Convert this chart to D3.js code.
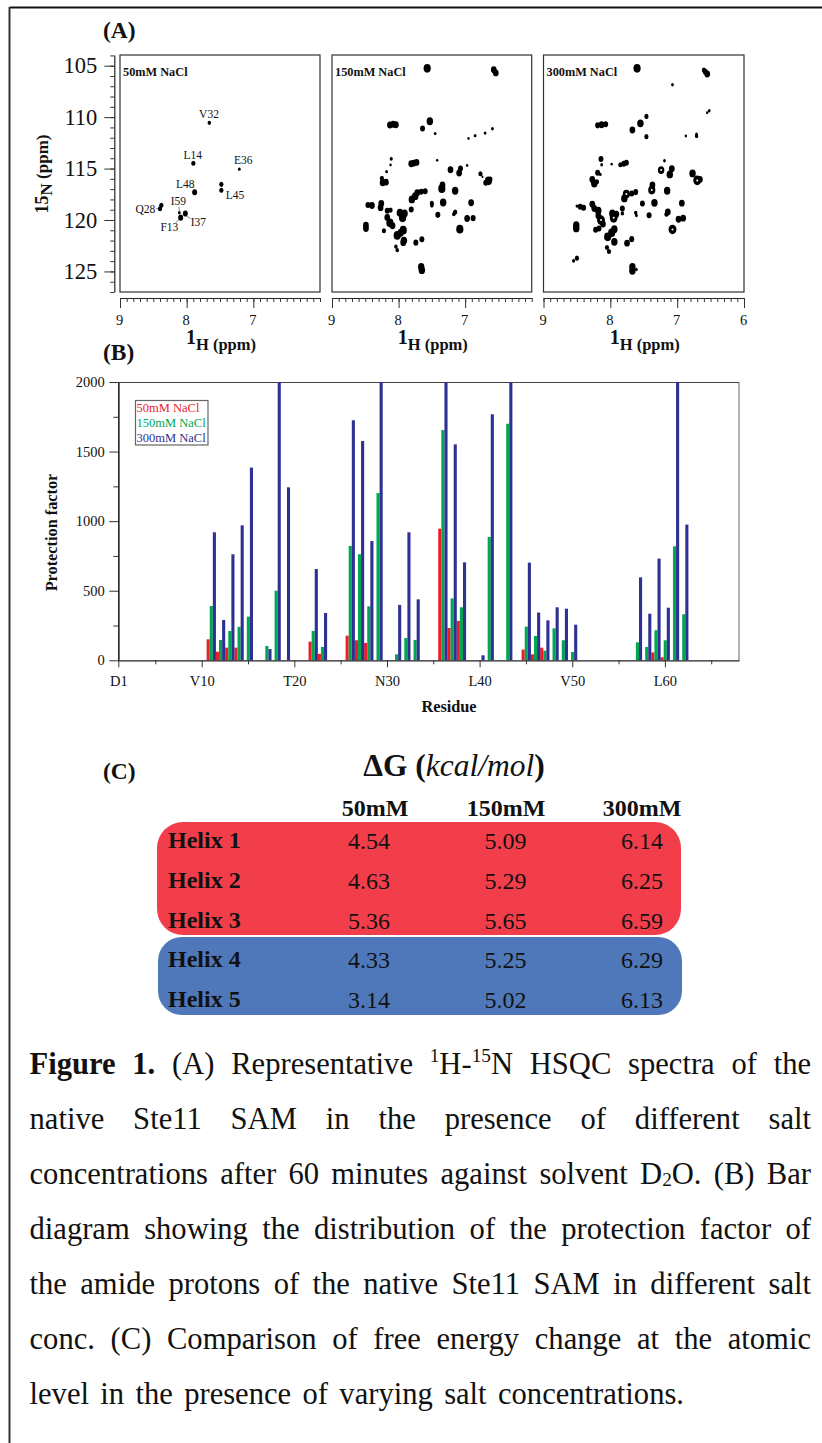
<!DOCTYPE html>
<html>
<head>
<meta charset="utf-8">
<script src="https://cdn.jsdelivr.net/npm/d3@7"></script>
<style>
  html, body { margin: 0; padding: 0; background: #fff; }
  svg { display: block; }
  text { font-family: "Liberation Serif", serif; fill: #111; }
  .domain { stroke: #222; }
</style>
</head>
<body>
<div id="fig"></div>
<script>
// (A) HSQC peaks: [1H ppm, 15N ppm, intensity]
const peaks50 = [
  [7.66,110.55,4],[7.90,114.48,5],[7.21,115.06,3],[7.88,117.30,6],[7.48,116.53,5],[7.48,117.11,5],
  [8.38,118.57,5],[8.40,118.90,5],[8.11,119.29,3],[8.09,119.77,6],[8.02,119.38,6]
];
const peaks150 = [
  [7.57,105.26,9],[6.57,105.40,7],[6.54,105.70,7],[8.13,110.77,7],[8.08,110.70,7],[8.04,110.74,7],
  [7.53,110.40,8],[7.64,111.10,6],[7.45,111.60,3],[6.95,112.07,2.5],[6.85,111.80,3],[6.70,111.55,3],
  [6.59,111.13,3],[8.11,114.05,3.5],[8.12,114.66,2.5],[8.18,115.30,3],[7.42,114.20,2.5],[6.97,114.70,2.5],
  [7.81,114.53,7],[7.77,114.47,7],[7.73,114.40,7],[7.22,115.12,7],[7.07,115.00,6],[7.09,115.44,7],
  [6.77,115.50,5],[6.74,115.80,2],[6.65,116.19,9],[6.69,116.38,6],[6.62,116.02,5],[8.25,115.96,5],
  [8.24,116.38,7],[8.19,116.32,7],[7.34,116.60,7],[7.35,116.96,9],[7.15,117.16,8],[7.60,117.20,6],
  [7.66,117.26,6],[7.72,117.35,7],[7.75,117.68,8],[7.80,118.00,8],[7.33,118.30,8],[7.50,118.39,5],
  [7.50,118.60,4],[6.91,118.33,7],[8.46,118.55,6],[8.40,118.60,7],[8.26,118.39,7],[8.27,118.80,7],
  [8.17,119.10,6],[8.12,119.04,5],[7.81,118.98,6],[7.41,119.50,6],[7.15,119.23,5],[7.17,119.43,4],
  [7.98,119.30,8],[7.91,119.36,8],[7.94,119.79,9],[6.97,119.85,7],[6.88,119.82,6],[8.17,119.75,7],
  [8.13,120.27,9],[8.09,120.56,7],[8.49,120.50,7],[8.49,120.82,7],[8.22,121.05,5],[7.08,120.89,9],
  [7.93,120.99,9],[7.97,121.25,8],[8.02,121.50,9],[7.92,122.00,8],[7.93,122.20,7],[7.74,122.20,6],
  [7.65,121.87,6],[8.04,122.60,4],[8.02,122.93,4],[7.66,124.55,8],[7.65,124.88,8]
];
const peaks300 = [
  [7.60,105.26,9],[6.60,105.42,5],[6.58,105.58,6],[6.55,105.81,7],[7.07,106.85,3],[6.52,109.38,3],
  [6.55,109.57,2.5],[7.46,109.93,5],[7.55,110.60,8],[7.67,111.26,7],[8.19,110.80,6],[8.13,110.74,7],
  [8.07,110.70,6],[7.46,111.90,5],[6.87,111.84,2.5],[6.71,111.84,4],[6.71,111.65,3],[8.14,114.08,6],
  [8.13,114.63,3],[7.98,114.57,2.5],[7.85,114.63,5],[7.80,114.53,6],[7.76,114.44,6],[7.19,114.24,3],
  [7.24,115.15,8],[7.08,115.02,7],[7.11,115.57,8],[6.77,115.47,8],[6.70,116.15,10],[6.66,116.06,7],
  [8.19,115.41,6],[8.15,115.57,3],[8.27,116.06,7],[8.24,116.45,8],[8.20,116.28,5],[7.37,116.60,7],
  [7.38,117.09,9],[7.15,117.16,8],[7.62,117.29,6],[7.68,117.42,6],[7.76,117.48,9],[7.79,117.90,8],
  [7.34,118.33,8],[7.52,118.39,6],[6.93,118.36,7],[8.50,118.65,3],[8.45,118.72,6],[8.40,118.81,6],
  [8.27,118.46,7],[8.24,118.88,7],[7.82,118.88,6],[7.82,119.36,4],[8.18,119.10,8],[8.18,119.59,7],
  [7.62,119.30,4],[7.61,119.56,3],[7.42,119.53,6],[7.14,119.23,7],[7.16,119.43,5],[7.97,119.36,8],
  [7.91,119.43,7],[7.95,119.79,10],[6.98,119.92,7],[6.91,119.82,7],[8.14,120.01,10],[8.11,120.40,7],
  [8.51,120.50,8],[8.51,120.82,8],[8.22,120.95,6],[8.17,120.82,6],[7.07,120.92,10],[7.94,120.89,8],
  [7.98,121.25,9],[8.04,121.63,9],[7.94,122.12,8],[7.75,122.25,7],[7.68,121.86,6],[8.05,122.67,5],
  [8.02,123.06,5],[8.50,123.71,5],[8.55,123.97,3.5],[7.67,124.55,8],[7.67,124.94,8],[7.61,124.81,3]
];
const holes300 = [[7.07,120.92],[7.95,119.79],[6.70,116.15],[7.76,117.48],[7.38,117.09],[8.14,120.01],[7.24,115.15]];

// peak assignments in the 50mM panel: [name, 1H of text, 15N of text]
const peakLabels = [
  ["V32",7.665,109.65],["L14",7.91,113.68],["E36",7.15,114.2],["L48",8.02,116.5],["L45",7.275,117.55],
  ["Q28",8.62,118.9],["I59",8.125,118.2],["F13",8.26,120.65],["I37",7.825,120.2]
];

const panelTitles = ["50mM NaCl", "150mM NaCl", "300mM NaCl"];

// (B) protection factor per residue, 2000 is where the plot cuts off
const residues = [11,12,13,14,15,17,18,19,22,23,26,27,28,29,31,32,33,36,37,38,40,41,43,45,46,47,48,49,50,57,58,59,60,61,62];
const pf50  = [151,62,91,91,0,0,0,0,134,46,177,144,125,0,0,0,0,946,232,283,0,0,0,77,43,91,0,0,0,0,0,57,22,0,0];
const pf150 = [390,146,211,240,314,103,500,0,211,96,822,762,388,1202,43,160,146,1655,445,381,0,886,1700,242,175,69,230,144,60,129,96,216,144,819,331];
const pf300 = [920,290,762,970,1385,81,2000,1243,656,340,1725,1576,857,2000,398,920,438,2000,1552,704,36,1768,2000,702,343,287,381,371,256,596,335,731,378,2000,975];
const seriesNames = ["50mM NaCl", "150mM NaCl", "300mM NaCl"];
const residueTicks = [1,10,20,30,40,50,60];
const residueTickLabels = ["D1","V10","T20","N30","L40","V50","L60"];

// (C) free energy table
const helixNames = ["Helix 1","Helix 2","Helix 3","Helix 4","Helix 5"];
const saltColumns = ["50mM","150mM","300mM"];
const dG50  = ["4.54","4.63","5.36","4.33","3.14"];
const dG150 = ["5.09","5.29","5.65","5.25","5.02"];
const dG300 = ["6.14","6.25","6.59","6.29","6.13"];

const barColors = ["#ee1c25", "#00a651", "#2e3192"];

const svg = d3.select("#fig").append("svg").attr("width", 822).attr("height", 1443);

// page frame
svg.append("line").attr("x1", 9.5).attr("x2", 822).attr("y1", 7.5).attr("y2", 7.5).attr("stroke", "#111").attr("stroke-width", 2);
svg.append("line").attr("x1", 9.5).attr("x2", 9.5).attr("y1", 7).attr("y2", 1443).attr("stroke", "#333").attr("stroke-width", 2);

function label(x, y, str, size, bold) {
  return svg.append("text").attr("x", x).attr("y", y).attr("font-size", size)
    .attr("font-weight", bold ? "bold" : "normal").text(str);
}

function styleAxis(g, labelSize) {
  g.selectAll("path.domain").attr("stroke", "#333").attr("stroke-width", 1.2);
  g.selectAll(".tick line").attr("stroke", "#333").attr("stroke-width", 1);
  g.selectAll(".tick text").attr("font-size", labelSize).attr("font-family", "Liberation Serif").attr("fill", "#111");
}

label(103, 38, "(A)", 23.5, true);
label(103, 360, "(B)", 23.5, true);
label(103, 779, "(C)", 23.5, true);

// ---- panel A ----
const panelTop = 55, panelBottom = 292;
const yN = d3.scaleLinear().domain([103.96, 127]).range([panelTop, panelBottom]);
const rPeak = d3.scaleLinear().domain([0, 10]).range([0.3, 4.3]);

const panels = [
  {left: 120, right: 320, peaks: peaks50, title: panelTitles[0], ticks: [9,8,7]},
  {left: 332, right: 531.7, peaks: peaks150, title: panelTitles[1], ticks: [9,8,7]},
  {left: 543.5, right: 744, peaks: peaks300, title: panelTitles[2], ticks: [9,8,7,6]}
];

panels.forEach(function(p, i) {
  let xH = d3.scaleLinear().domain([9, 6]).range([p.left, p.right]);

  svg.append("rect").attr("x", p.left).attr("y", panelTop)
    .attr("width", p.right - p.left).attr("height", panelBottom - panelTop)
    .attr("fill", "none").attr("stroke", "#333").attr("stroke-width", 1.2);

  svg.append("g").selectAll("ellipse").data(p.peaks).enter().append("ellipse")
    .attr("cx", function(d) { return xH(d[0]); })
    .attr("cy", function(d) { return yN(d[1]); })
    .attr("rx", function(d) { return rPeak(d[2]) * 0.92; })
    .attr("ry", function(d) { return rPeak(d[2]) * 1.12; })
    .attr("fill", "#000");

  if (i == 2) {
    svg.append("g").selectAll("circle").data(holes300).enter().append("circle")
      .attr("cx", function(d) { return xH(d[0]); })
      .attr("cy", function(d) { return yN(d[1]); })
      .attr("r", 1).attr("fill", "#fff");
  }

  label(p.left + 3, 75.5, p.title, 12.3, true);

  // minor then major ticks
  let minor = svg.append("g").attr("transform", "translate(0,298)")
    .call(d3.axisBottom(xH).tickValues(d3.range(60, 91).map(function(v) { return v / 10; })).tickSize(4).tickSizeOuter(0).tickFormat(""));
  styleAxis(minor, 14);
  let major = svg.append("g").attr("transform", "translate(0,298)")
    .call(d3.axisBottom(xH).tickValues(p.ticks).tickSize(10).tickSizeOuter(0).tickFormat(d3.format("d")));
  major.select("path.domain").remove();
  styleAxis(major, 14.5);
  major.selectAll(".tick text").attr("dy", "0.95em").attr("dx", -1);

  // 1H (ppm)
  let xt = label((p.left + p.right) / 2 + 1 , 350, "", 16.5, true).attr("text-anchor", "middle");
  xt.append("tspan").attr("font-size", 20).attr("dy", -6).text("1");
  xt.append("tspan").attr("dy", 6).text("H (ppm)");
});

// peak names and leader lines, 50mM panel only
const xH50 = d3.scaleLinear().domain([9, 6]).range([120, 320]);
svg.append("g").selectAll("text").data(peakLabels).enter().append("text")
  .attr("x", function(d) { return xH50(d[1]); })
  .attr("y", function(d) { return yN(d[2]); })
  .attr("text-anchor", "middle").attr("dominant-baseline", "central")
  .attr("font-size", 11.5).text(function(d) { return d[0]; });

const leaders = [
  [[8.115,118.7],[8.11,119.2]],[[8.17,120.3],[8.1,119.85]],[[7.94,119.9],[8.01,119.55]],[[8.46,118.9],[8.42,118.9]]
];
svg.append("g").selectAll("line").data(leaders).enter().append("line")
  .attr("x1", function(d) { return xH50(d[0][0]); }).attr("y1", function(d) { return yN(d[0][1]); })
  .attr("x2", function(d) { return xH50(d[1][0]); }).attr("y2", function(d) { return yN(d[1][1]); })
  .attr("stroke", "#333").attr("stroke-width", 0.6);

// y axis shared by the spectra
let yMinor = svg.append("g").attr("transform", "translate(114.3,0)")
  .call(d3.axisLeft(yN).tickValues(d3.range(104, 128)).tickSize(4).tickSizeOuter(0).tickFormat(""));
styleAxis(yMinor, 21);
let yMajor = svg.append("g").attr("transform", "translate(114.3,0)")
  .call(d3.axisLeft(yN).tickValues([105,110,115,120,125]).tickSize(10).tickSizeOuter(0).tickFormat(d3.format("d")));
yMajor.select("path.domain").remove();
styleAxis(yMajor, 22.5);
yMajor.selectAll(".tick text").attr("dx", -4);

let yt = svg.append("text").attr("transform", "translate(48,174) rotate(-90)")
  .attr("text-anchor", "middle").attr("font-weight", "bold").attr("font-size", 17);
yt.append("tspan").attr("font-size", 18).text("15");
yt.append("tspan").attr("dy", 4).text("N");
yt.append("tspan").attr("dy", -4).text(" (ppm)");

// ---- panel B ----
const barLeft = 118.3, barRight = 739, barTop = 382, barBottom = 660.3;
const x = d3.scaleLinear().domain([1, 68]).range([barLeft, barRight]);
const y = d3.scaleLinear().domain([0, 2000]).range([barBottom, barTop]);
const inner = d3.scaleBand().domain(seriesNames).range([-4.6, 4.7]);
const seriesValues = [pf50, pf150, pf300];

svg.append("line").attr("x1", barLeft).attr("x2", barRight).attr("y1", barTop + 0.5).attr("y2", barTop + 0.5).attr("stroke", "#444").attr("stroke-width", 1.2);
svg.append("line").attr("x1", barRight).attr("x2", barRight).attr("y1", barTop).attr("y2", barBottom).attr("stroke", "#666").attr("stroke-width", 1);

seriesNames.forEach(function(name, s) {
  svg.append("g").selectAll("rect").data(residues).enter().append("rect")
    .attr("x", function(d) { return x(d) + inner(name) + 0.3; })
    .attr("width", inner.bandwidth())
    .attr("y", function(d, i) { return y(seriesValues[s][i]); })
    .attr("height", function(d, i) { return y(0) - y(seriesValues[s][i]); })
    .attr("fill", barColors[s]);
});

let bYMinor = svg.append("g").attr("transform", "translate(" + barLeft + ",0)")
  .call(d3.axisLeft(y).tickValues([250,750,1250,1750]).tickSize(5).tickSizeOuter(0).tickFormat(""));
styleAxis(bYMinor, 14.5);
let bYMajor = svg.append("g").attr("transform", "translate(" + barLeft + ",0)")
  .call(d3.axisLeft(y).tickValues([0,500,1000,1500,2000]).tickSize(9).tickSizeOuter(0).tickFormat(d3.format("d")));
styleAxis(bYMajor, 14.5);
bYMajor.selectAll(".tick text").attr("dx", -1.5);

let bXMinor = svg.append("g").attr("transform", "translate(0," + barBottom + ")")
  .call(d3.axisBottom(x).tickValues([5,15,25,35,45,55,65]).tickSize(4).tickSizeOuter(0).tickFormat(""));
styleAxis(bXMinor, 14.5);
let bXMajor = svg.append("g").attr("transform", "translate(0," + barBottom + ")")
  .call(d3.axisBottom(x).tickValues(residueTicks).tickSize(7).tickSizeOuter(0)
    .tickFormat(function(d, i) { return residueTickLabels[i]; }));
bXMajor.select("path.domain").remove();
styleAxis(bXMajor, 14.5);
bXMajor.selectAll(".tick text").attr("dy", "1.05em");

svg.append("text").attr("transform", "translate(57,532.5) rotate(-90)")
  .attr("text-anchor", "middle").attr("font-weight", "bold").attr("font-size", 16.3).text("Protection factor");
label(449, 712, "Residue", 16.3, true).attr("text-anchor", "middle");

// legend
svg.append("rect").attr("x", 135.5).attr("y", 400.5).attr("width", 72.5).attr("height", 44.5)
  .attr("fill", "#fff").attr("stroke", "#666").attr("stroke-width", 1.2);
seriesNames.forEach(function(name, i) {
  svg.append("text").attr("x", 136.5).attr("y", 411.5 + i * 15).attr("font-size", 12.5)
    .style("fill", barColors[i]).text(name);
});

// ---- panel C ----
svg.append("rect").attr("x", 157).attr("y", 822).attr("width", 524).attr("height", 113).attr("rx", 26).attr("ry", 26).attr("fill", "#f23e4b");
svg.append("rect").attr("x", 158).attr("y", 937).attr("width", 524).attr("height", 78).attr("rx", 24).attr("ry", 24).attr("fill", "#4f78ba");

let dgTitle = svg.append("text").attr("x", 454).attr("y", 776).attr("text-anchor", "middle").attr("font-size", 31.5);
dgTitle.append("tspan").attr("font-weight", "bold").text("\u0394G (");
dgTitle.append("tspan").attr("font-style", "italic").text("kcal/mol");
dgTitle.append("tspan").attr("font-weight", "bold").text(")");

const colX = d3.scalePoint().domain(saltColumns).range([369, 642]);
const rowY = d3.scalePoint().domain(helixNames).range([849, 1008]);
const headX = d3.scaleOrdinal().domain(saltColumns).range([375, 506, 642]);

saltColumns.forEach(function(c) {
  label(headX(c), 816, c, 24, true).attr("text-anchor", "middle");
});
helixNames.forEach(function(h, i) {
  label(168, rowY(h) - 1, h, 24, true);
  [dG50, dG150, dG300].forEach(function(col, j) {
    label(colX(saltColumns[j]), rowY(h), col[i], 24).attr("text-anchor", "middle");
  });
});

// ---- caption, justified by hand ----
const captionLines = [
  [["Figure 1.","b"],[" (A) Representative ",""],["1","sup"],["H-",""],["15","sup"],["N HSQC spectra of the",""]],
  [["native Ste11 SAM in the presence of different salt",""]],
  [["concentrations after 60 minutes against solvent D",""],["2","sub"],["O. (B) Bar",""]],
  [["diagram showing the distribution of the protection factor of",""]],
  [["the amide protons of the native Ste11 SAM in different salt",""]],
  [["conc. (C) Comparison of free energy change at the atomic",""]],
  [["level in the presence of varying salt concentrations.",""]]
];
const capEnds = [811, 811, 811, 811, 811, 811, 684];
const capY = d3.scaleLinear().domain([0, 6]).range([1074, 1404]);
const capSize = 30.6;

captionLines.forEach(function(parts, i) {
  let t = svg.append("text").attr("x", 29.5).attr("y", capY(i)).attr("font-size", capSize).style("white-space", "pre");
  let shift = 0;
  parts.forEach(function(seg) {
    let s = t.append("tspan").text(seg[0]);
    let want = seg[1] == "sup" ? -12 : seg[1] == "sub" ? 2 : 0;
    s.attr("dy", want - shift);
    shift = want;
    if (seg[1] == "b") s.attr("font-weight", "bold");
    if (seg[1] == "sup" || seg[1] == "sub") s.attr("font-size", capSize * 0.63);
  });
  let gaps = parts.map(function(p) { return p[0]; }).join("").split(" ").length - 1;
  let extra = (capEnds[i] - 29.5 - t.node().getComputedTextLength()) / gaps;
  t.style("word-spacing", extra + "px");
});
</script>
</body>
</html>
